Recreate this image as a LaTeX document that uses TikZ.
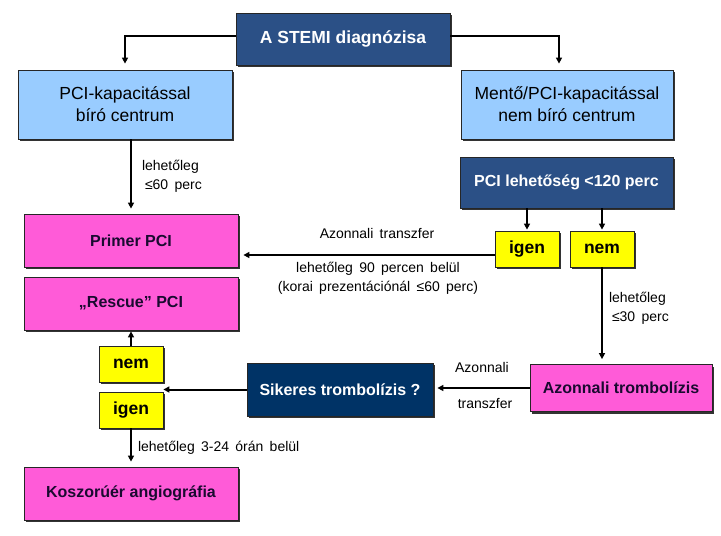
\documentclass[tikz,border=0pt]{standalone}
\usepackage{fontspec}
\setmainfont{Liberation Sans}
\usetikzlibrary{arrows.meta,positioning,shadows,calc}
\definecolor{navy}{HTML}{2B5086}
\definecolor{navyd}{HTML}{003366}
\definecolor{sky}{HTML}{99CCFF}
\definecolor{pink}{HTML}{FF5BD8}
\definecolor{lemon}{HTML}{FFFF00}
\definecolor{ink}{HTML}{1A0A30}

\begin{document}
\begin{tikzpicture}[x=1pt, y=-1pt,
          base/.style={draw=black!85, line width=0.8pt, inner sep=2pt, align=center, drop shadow={shadow xshift=2pt, shadow yshift=-2pt, fill=black!80, opacity=1}},
          dbox/.style={base, fill=navy, text=white, font=\fontsize{16}{19}\selectfont\bfseries},
          nbox/.style={base, fill=navyd, text=white, font=\fontsize{16}{19}\selectfont\bfseries},
          lbox/.style={base, fill=sky, font=\fontsize{17.5}{22}\selectfont, minimum width=214pt, minimum height=69pt},
          pbox/.style={base, fill=pink, text=ink, font=\fontsize{16}{19}\selectfont\bfseries, minimum width=214pt, minimum height=53pt},
          ybox/.style={base, fill=lemon, font=\fontsize{17.5}{20}\selectfont\bfseries, minimum width=64pt, minimum height=36pt},
          lab/.style={align=center, inner sep=0pt, font=\fontsize{14}{19}\selectfont, execute at begin node={\spaceskip=0.45em plus 1pt\relax}},
          arr/.style={-{Triangle[length=6pt, width=6pt]}, line width=2pt, color=black}]
        \useasboundingbox (0,0) rectangle (721,536);
        \node[dbox, font=\fontsize{17.5}{20}\selectfont\bfseries, minimum width=214pt, minimum height=52pt] (stemi) at (343,39) {A STEMI diagnózisa};
        \node[lbox] (pcic) at (125,104.5) {PCI-kapacitással\\ bíró centrum};
        \node[lbox, minimum width=212pt] (mento) at (567,104.5) {Mentő/PCI-kapacitással\\ nem bíró centrum};
        \node[pbox] (primer) at (131,240.5) {Primer PCI};
        \node[pbox] (rescue) at (131,303.5) {„Rescue” PCI};
        \node[pbox] (koszo) at (131,493.5) {Koszorúér angiográfia};
        \node[dbox, minimum width=213pt, minimum height=51pt] (lehet) at (566.5,182.5) {PCI lehetőség <120 perc};
        \node[ybox] (igenr) at (527,249) {igen};
        \node[ybox] (nemr) at (602,249) {nem};
        \node[pbox, minimum width=182pt, minimum height=47pt] (trombo) at (621,388) {Azonnali trombolízis};
        \node[nbox, minimum width=186pt, minimum height=53pt] (sikeres) at (340,389.5) {Sikeres trombolízis ?};
        \node[ybox] (neml) at (131,364) {nem};
        \node[ybox] (igenl) at (131,410) {igen};
        \coordinate (gap) at ($(neml.south east)!.5!(igenl.north east)$);
        \draw[arr, shorten >=6pt] ([yshift=3pt]stemi.west) -| (pcic.north);
        \draw[arr, shorten >=6pt] ([yshift=3pt]stemi.east) -| ([xshift=-8pt]mento.north);
        \draw[arr, shorten >=5pt] (primer.north |- pcic.south) -- (primer.north) node[lab, midway, right=10pt, align=left] {lehetőleg\\\hspace*{3pt}≤60 perc};
        \draw[arr, shorten >=1pt] (igenr.north |- lehet.south) -- (igenr.north);
        \draw[arr, shorten >=1pt] (nemr.north |- lehet.south) -- (nemr.north);
        \draw[arr, shorten >=5pt] ([yshift=-6pt]igenr.west) -- ([yshift=-6pt]igenr.west -| primer.east);
        \node[lab] (azt) at (377,233) {Azonnali transzfer};
        \node[lab] (l90) at (378,278) {lehetőleg 90 percen belül\\ (korai prezentációnál ≤60 perc)};
        \draw[arr, shorten >=5pt] (nemr.south) -- (nemr.south |- trombo.north) node[lab, pos=0.42, right=6pt, align=left] {lehetőleg\\\hspace*{3pt}≤30 perc};
        \draw[arr, shorten >=4pt] (trombo.west) -- (trombo.west -| sikeres.east);
        \node[lab] (azn) at (482,367) {Azonnali};
        \node[lab] (tra) at (485,403) {transzfer};
        \draw[arr] (sikeres.west) -- (gap |- sikeres.west);
        \draw[arr, shorten >=1pt] (neml.north) -- (rescue.south);
        \draw[arr, shorten >=5pt] (igenl.south) -- (koszo.north) node[lab, midway, right=6pt] {lehetőleg 3-24 órán belül};
      \end{tikzpicture}
\end{document}
